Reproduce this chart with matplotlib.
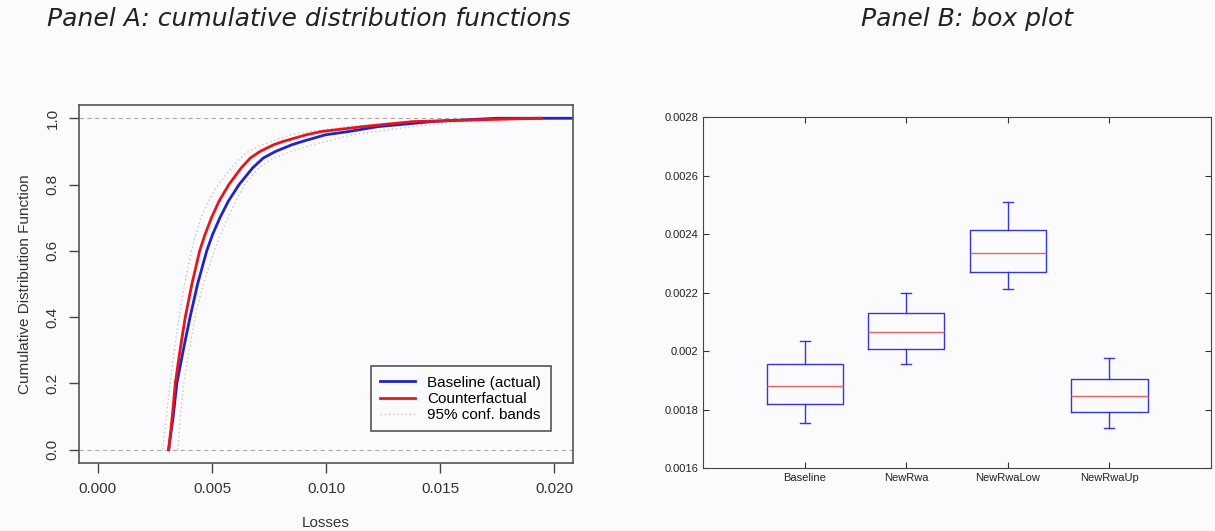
import matplotlib.pyplot as plt
from matplotlib.lines import Line2D

plt.rcParams["font.family"] = ["Liberation Sans", "DejaVu Sans"]

# ---------------------------------------------------------------------------
# Datos
# ---------------------------------------------------------------------------

# Panel A: CDF empíricas (pérdida, probabilidad acumulada)
cdf_levels = [0.0, 0.1, 0.2, 0.3, 0.4, 0.5, 0.6, 0.65, 0.7, 0.75, 0.8, 0.85,
              0.88, 0.9, 0.92, 0.93, 0.95, 0.96, 0.975, 0.99, 1.0]
baseline_losses = [0.00310, 0.00330, 0.00346, 0.00374, 0.00404, 0.00437,
                   0.00477, 0.00503, 0.00535, 0.00572, 0.00619, 0.00678,
                   0.00725, 0.00779, 0.00850, 0.00896, 0.00997, 0.01100,
                   0.01230, 0.01467, 0.01750]
counterfactual_losses = [0.00310, 0.00326, 0.00339, 0.00360, 0.00383,
                         0.00412, 0.00446, 0.00470, 0.00498, 0.00531,
                         0.00574, 0.00628, 0.00668, 0.00711, 0.00770,
                         0.00812, 0.00913, 0.00980, 0.01165, 0.01383,
                         0.01920]
band_lower = [0.00284, 0.00300, 0.00317, 0.00335, 0.00356, 0.00380, 0.00410,
              0.00430, 0.00452, 0.00485, 0.00527, 0.00585, 0.00625, 0.00661,
              0.00720, 0.00760, 0.00846, 0.00930, 0.01100, 0.01350, 0.01800]
band_upper = [0.00350, 0.00362, 0.00376, 0.00400, 0.00426, 0.00462, 0.00510,
              0.00538, 0.00570, 0.00605, 0.00644, 0.00705, 0.00770, 0.00846,
              0.00940, 0.01000, 0.01114, 0.01220, 0.01380, 0.01600, 0.02090]
cdf_xticks = [0.000, 0.005, 0.010, 0.015, 0.020]
cdf_yticks = [0.0, 0.2, 0.4, 0.6, 0.8, 1.0]

# Panel B: diagramas de caja (whisker bajo, Q1, mediana, Q3, whisker alto)
box_labels = ["Baseline", "NewRwa", "NewRwaLow", "NewRwaUp"]
whisker_low = [0.001755, 0.001956, 0.002211, 0.001738]
q1 = [0.001818, 0.002007, 0.002271, 0.001791]
median = [0.001880, 0.002065, 0.002334, 0.001846]
q3 = [0.001956, 0.002129, 0.002413, 0.001904]
whisker_high = [0.002034, 0.002198, 0.002508, 0.001975]
box_yticks = [0.0016, 0.0018, 0.002, 0.0022, 0.0024, 0.0026, 0.0028]
box_yticklabels = ["0.0016", "0.0018", "0.002", "0.0022", "0.0024", "0.0026", "0.0028"]

BG = "#fbfbfd"
W, H = 1215, 531

fig = plt.figure(figsize=(W / 100, H / 100), dpi=100, facecolor=BG)

# ---------------------------------------------------------------------------
# Panel A
# ---------------------------------------------------------------------------
ax1 = fig.add_axes([79 / W, 1 - 463 / H, 494 / W, 358 / H])
ax1.set_facecolor(BG)
ax1.axhline(0, color="#aaaaaa", lw=0.8, ls=(0, (4, 3)))
ax1.axhline(1, color="#aaaaaa", lw=0.8, ls=(0, (4, 3)))
dot = dict(color="#c4c4c4", lw=1.0, ls=(0, (1, 2)))
ax1.plot(band_lower, cdf_levels, **dot)
ax1.plot(band_upper, cdf_levels, **dot)
ax1.plot(baseline_losses + [0.0215], cdf_levels + [1.0], color="#1f23c8", lw=2.0)
ax1.plot(counterfactual_losses + [0.01945], cdf_levels + [1.0], color="#e8141b", lw=2.0)

ax1.set_xlim(-0.00083, 0.02083)
ax1.set_ylim(-0.04, 1.04)
ax1.set_xticks(cdf_xticks)
ax1.set_xticklabels([f"{v:.3f}" for v in cdf_xticks], fontsize=11, color="#333333")
ax1.set_yticks(cdf_yticks)
ax1.set_yticklabels([f"{v:.1f}" for v in cdf_yticks], fontsize=11,
                    color="#333333", rotation=90, va="center")
ax1.tick_params(length=7, width=1, color="#444444", pad=7)
for s in ax1.spines.values():
    s.set_color("#555555")
    s.set_linewidth(1.2)
ax1.set_xlabel("Losses", fontsize=11, color="#333333", labelpad=14)
ax1.set_ylabel("Cumulative Distribution Function", fontsize=11,
               color="#333333", labelpad=10)

handles = [Line2D([], [], color="#1f23c8", lw=2.0),
           Line2D([], [], color="#e8141b", lw=2.0),
           Line2D([], [], **dot)]
leg = ax1.legend(handles, ["Baseline (actual)", "Counterfactual", "95% conf. bands"],
                 loc="lower right", bbox_to_anchor=(0.97, 0.067),
                 fontsize=11, fancybox=False, framealpha=1,
                 edgecolor="#555555", handlelength=2.3, labelspacing=0.15,
                 borderpad=0.6, facecolor=BG)
leg.get_frame().set_linewidth(1.2)

# ---------------------------------------------------------------------------
# Panel B
# ---------------------------------------------------------------------------
ax2 = fig.add_axes([703 / W, 1 - 468 / H, 508 / W, 351 / H])
ax2.set_facecolor(BG)
stats = []
for i, lab in enumerate(box_labels):
    stats.append(dict(label=lab, whislo=whisker_low[i], q1=q1[i], med=median[i],
                      q3=q3[i], whishi=whisker_high[i], fliers=[]))
ax2.bxp(stats, positions=[1, 2, 3, 4], widths=0.75, showfliers=False,
        boxprops=dict(color="#3434e0", lw=1.0),
        whiskerprops=dict(color="#3434e0", lw=1.0),
        capprops=dict(color="#3434e0", lw=1.0),
        medianprops=dict(color="#f06060", lw=1.0),
        capwidths=0.1)
ax2.set_xlim(0, 5)
ax2.set_ylim(0.0016, 0.0028)
ax2.set_yticks(box_yticks)
ax2.set_yticklabels(box_yticklabels, fontsize=8, color="#222222")
ax2.set_xticks([1, 2, 3, 4])
ax2.set_xticklabels(box_labels, fontsize=8, color="#222222")
ax2.tick_params(direction="in", length=4, top=True, right=True, color="#333333")
for s in ax2.spines.values():
    s.set_color("#444444")
    s.set_linewidth(0.8)

# Títulos
fig.text(309 / W, 1 - 19 / H, "Panel A: cumulative distribution functions",
         fontsize=18, style="italic", ha="center", va="center",
         family="DejaVu Sans", color="#222222")
fig.text(967 / W, 1 - 19 / H, "Panel B: box plot",
         fontsize=18, style="italic", ha="center", va="center",
         family="DejaVu Sans", color="#222222")

plt.savefig("out.png", dpi=100, facecolor=BG)
